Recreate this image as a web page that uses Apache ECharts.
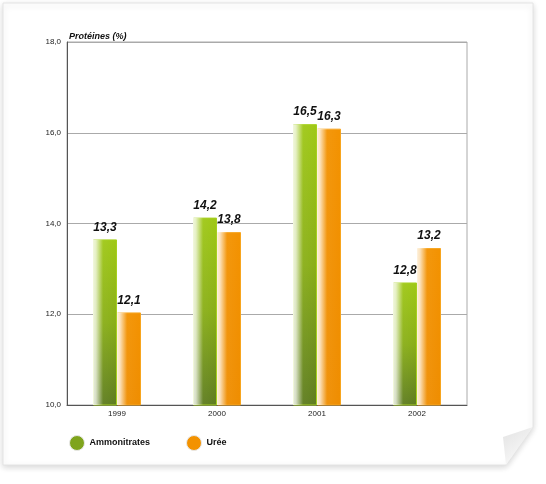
<!DOCTYPE html>
<html lang="fr">
<head>
    <meta charset="UTF-8">
    <title>Protéines (%)</title>
    <script src="https://cdn.jsdelivr.net/npm/echarts@6/dist/echarts.min.js"></script>
</head>
<body style="margin:0;background:#fff">
    <div id="main" style="width:546px;height:484px"></div>
<script type="text/javascript">
    // données
    var years = ['1999', '2000', '2001', '2002'];
    var ammonitrates = [13.65, 14.13, 16.19, 12.70];
    var uree = [12.04, 13.81, 16.09, 13.46];
    // étiquettes affichées au-dessus des barres
    var ammonitratesLabels = ['13,3', '14,2', '16,5', '12,8'];
    var ureeLabels = ['12,1', '13,8', '16,3', '13,2'];
    var yTicks = [10, 12, 14, 16, 18];

    var G = echarts.graphic;
    var greenFill = new G.LinearGradient(0, 0, 0, 1, [
        {offset: 0, color: '#9fc816'},
        {offset: 0.5, color: '#89ae17'},
        {offset: 1, color: '#5e7c1f'}
    ]);
    var orangeFill = new G.LinearGradient(0, 0, 0, 1, [
        {offset: 0, color: '#f39200'},
        {offset: 1, color: '#ef8d00'}
    ]);
    var shine = new G.LinearGradient(0, 0, 1, 0, [
        {offset: 0, color: 'rgba(255,255,255,0.85)'},
        {offset: 0.12, color: 'rgba(255,255,255,0.75)'},
        {offset: 0.42, color: 'rgba(255,255,255,0.05)'},
        {offset: 1, color: 'rgba(255,255,255,0)'}
    ]);

    function labelOf(arr) {
        return {
            show: true, position: 'top', distance: 6,
            fontFamily: 'Liberation Sans', fontSize: 12, fontWeight: 'bold', fontStyle: 'italic', color: '#111',
            formatter: function (p) { return arr[p.dataIndex]; }
        };
    }

    var myChart = echarts.init(document.getElementById('main'));
    var option = {
        animation: false,
        textStyle: {fontFamily: 'Liberation Sans'},
        graphic: [
            {
                type: 'polygon', z: -10, silent: true,
                shape: {points: [[3, 3], [533, 3], [533, 427], [506, 465], [3, 465]]},
                style: {fill: '#fff', stroke: '#e4e4e4', lineWidth: 1,
                    shadowBlur: 6, shadowColor: 'rgba(0,0,0,0.16)', shadowOffsetY: 2}
            },
            {
                type: 'polygon', z: -9, silent: true,
                shape: {points: [[533, 427], [506, 465], [503, 437]]},
                style: {fill: new G.LinearGradient(0, 0, 1, 1, [
                    {offset: 0, color: '#e2e2e2'},
                    {offset: 1, color: '#ffffff'}
                ])}
            }
        ],
        title: {
            text: 'Protéines (%)', left: 64, top: 27,
            textStyle: {fontFamily: 'Liberation Sans', fontSize: 9, fontWeight: 'bold', fontStyle: 'italic', color: '#111'}
        },
        legend: {
            left: 64, top: 430, itemWidth: 15, itemHeight: 15, itemGap: 36,
            textStyle: {fontFamily: 'Liberation Sans', fontSize: 9, fontWeight: 'bold', color: '#111'},
            data: [
                {name: 'Ammonitrates', icon: 'circle', itemStyle: {color: '#7fa41c', borderColor: '#e8e8e8', borderWidth: 1}},
                {name: 'Urée', icon: 'circle', itemStyle: {color: '#f39200', borderColor: '#e8e8e8', borderWidth: 1}}
            ]
        },
        grid: {left: 67, right: 79, top: 42, bottom: 79, show: true, borderColor: '#aaa', borderWidth: 1},
        xAxis: [
            {
                type: 'category', data: years,
                axisLine: {lineStyle: {color: '#555'}},
                axisTick: {length: 4, lineStyle: {color: '#444'}},
                axisLabel: {fontSize: 8, color: '#222', margin: 5}
            },
            {type: 'category', data: years, show: false}
        ],
        yAxis: {
            min: yTicks[0], max: yTicks[yTicks.length - 1], interval: 2,
            axisLine: {show: true, lineStyle: {color: '#555'}},
            axisTick: {show: false},
            splitLine: {lineStyle: {color: '#aaa'}},
            axisLabel: {fontSize: 8, color: '#222', margin: 6,
                formatter: function (v) { return v.toFixed(1).replace('.', ','); }}
        },
        series: [
            {
                name: 'Ammonitrates', type: 'bar', data: ammonitrates, barWidth: 24, barGap: '0%',
                itemStyle: {color: greenFill, borderColor: '#a6d01e', borderWidth: 1},
                label: labelOf(ammonitratesLabels)
            },
            {
                name: 'Urée', type: 'bar', data: uree, barWidth: 24, barGap: '0%',
                itemStyle: {color: orangeFill, borderColor: '#f7a51f', borderWidth: 1},
                label: labelOf(ureeLabels)
            },
            {
                name: 'shineA', type: 'bar', xAxisIndex: 1, data: ammonitrates, barWidth: 24, barGap: '0%',
                silent: true, itemStyle: {color: shine}
            },
            {
                name: 'shineU', type: 'bar', xAxisIndex: 1, data: uree, barWidth: 24, barGap: '0%',
                silent: true, itemStyle: {color: shine}
            }
        ]
    };
    myChart.setOption(option);
</script>
</body>
</html>
